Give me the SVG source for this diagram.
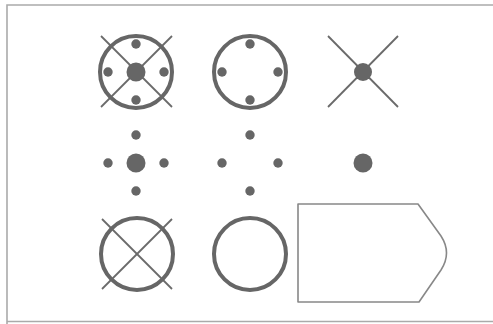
<svg xmlns="http://www.w3.org/2000/svg" width="493" height="324" viewBox="0 0 493 324">
<style>
.ring{fill:none;stroke:#666;stroke-width:4}
.ln{stroke:#6a6a6a;stroke-width:1.8;fill:none}
.dot{fill:#666}
.frame{fill:none;stroke:#aaa;stroke-width:1.6}
.shape{fill:#fff;stroke:#888;stroke-width:1.6;stroke-linejoin:round}
</style>
<rect width="493" height="324" fill="#fff"/>
<path class="frame" d="M7 330 V5 H500 M7 321.5 H500"/>
<g id="sym1">
<line class="ln" x1="101" y1="36" x2="172" y2="107"/>
<line class="ln" x1="172" y1="36" x2="101" y2="107"/>
<circle class="ring" cx="136" cy="72" r="36"/>
<circle class="dot" cx="136" cy="72" r="9.5"/>
<circle class="dot" cx="136" cy="44" r="4.7"/>
<circle class="dot" cx="136" cy="100" r="4.7"/>
<circle class="dot" cx="108" cy="72" r="4.7"/>
<circle class="dot" cx="164" cy="72" r="4.7"/>
</g>
<g id="sym2">
<circle class="ring" cx="250" cy="72" r="36"/>
<circle class="dot" cx="250" cy="44" r="4.7"/>
<circle class="dot" cx="250" cy="100" r="4.7"/>
<circle class="dot" cx="222" cy="72" r="4.7"/>
<circle class="dot" cx="278" cy="72" r="4.7"/>
</g>
<g id="sym3">
<line class="ln" x1="328" y1="36" x2="398" y2="107"/>
<line class="ln" x1="398" y1="36" x2="328" y2="107"/>
<circle class="dot" cx="363" cy="72" r="9"/>
</g>
<g id="sym4">
<circle class="dot" cx="136" cy="163" r="9.5"/>
<circle class="dot" cx="136" cy="135" r="4.7"/>
<circle class="dot" cx="136" cy="191" r="4.7"/>
<circle class="dot" cx="108" cy="163" r="4.7"/>
<circle class="dot" cx="164" cy="163" r="4.7"/>
</g>
<g id="sym5">
<circle class="dot" cx="250" cy="135" r="4.7"/>
<circle class="dot" cx="250" cy="191" r="4.7"/>
<circle class="dot" cx="222" cy="163" r="4.7"/>
<circle class="dot" cx="278" cy="163" r="4.7"/>
</g>
<g id="sym6">
<circle class="dot" cx="363" cy="163" r="9.5"/>
</g>
<g id="sym7">
<line class="ln" x1="102" y1="219" x2="172" y2="289"/>
<line class="ln" x1="172" y1="219" x2="102" y2="289"/>
<circle class="ring" cx="137" cy="254" r="36"/>
</g>
<g id="sym8">
<circle class="ring" cx="250" cy="254" r="36"/>
</g>
<g id="sym9">
<path class="shape" d="M298 204 H418 L441 236 Q452 253 441 270 L419 302 H298 Z"/>
</g>
<g id="connectors"/>
</svg>
